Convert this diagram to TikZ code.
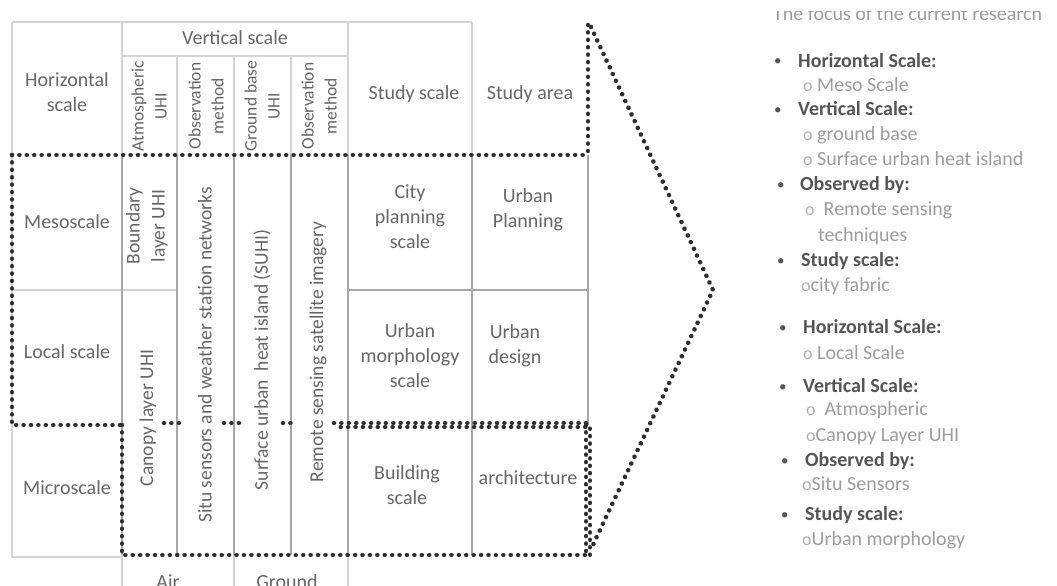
\documentclass[tikz,border=0pt]{standalone}
\usepackage{fontspec}
\setmainfont{Carlito}
\usetikzlibrary{positioning}
\definecolor{txtgray}{HTML}{666666}
\definecolor{headgray}{HTML}{555555}
\definecolor{subgray}{HTML}{9C9C9C}
\definecolor{linegray}{HTML}{A6A6A6}
\definecolor{palegray}{HTML}{D4D4D4}
\definecolor{dotgray}{HTML}{2E2E2E}
\tikzset{
  cell/.style={text=txtgray,font=\fontsize{20}{25}\selectfont,align=center,inner sep=0pt},
  headcell/.style={cell,rotate=90,font=\fontsize{17.5}{23}\selectfont},
  vcell/.style={cell,rotate=90,font=\fontsize{19.5}{25}\selectfont},
  gridline/.style={draw=linegray,line width=1.2pt},
  paleline/.style={draw=palegray,line width=1.2pt},
  dotline/.style={draw=dotgray,line width=4.6pt,line cap=round,dash pattern=on 0.01pt off 7.4pt},
  bulhead/.style={anchor=base west,text=headgray,font=\fontsize{20}{24}\selectfont\bfseries,inner sep=0pt},
  bulitem/.style={anchor=base west,text=subgray,font=\fontsize{20}{24}\selectfont,inner sep=0pt},
  bulmark/.style={anchor=base west,text=headgray,font=\fontsize{15}{15}\selectfont,inner sep=0pt}
}
\newcommand{\subo}{{\fontsize{18}{18}\selectfont\color{subgray!80}o}}
\begin{document}
\begin{tikzpicture}[x=1pt,y=-1pt]
\useasboundingbox (0,0) rectangle (1057,586);
%
% grid of the table
\draw[paleline] (12,22) -- (472,22);
\draw[paleline] (12,22) -- (12,557) -- (122,557);
\draw[paleline] (12,290) -- (177,290);
\draw[paleline] (122,56) -- (348,56);
\draw[paleline] (122,22) -- (122,155);
\draw[paleline] (177,56) -- (177,155);
\draw[paleline] (234,56) -- (234,155);
\draw[paleline] (291,56) -- (291,155);
\draw[paleline] (348,22) -- (348,155);
\draw[paleline] (472,22) -- (472,155);
\draw[paleline] (122,555) -- (122,586);
\draw[paleline] (234,555) -- (234,586);
\draw[paleline] (348,555) -- (348,586);
\draw[gridline] (122,155) -- (122,555);
\draw[gridline] (177,155) -- (177,555);
\draw[gridline] (234,155) -- (234,555);
\draw[gridline] (291,155) -- (291,555);
\draw[gridline] (348,155) -- (348,555);
\draw[gridline] (472,155) -- (472,555);
\draw[gridline] (588,155) -- (588,425);
\draw[gridline] (348,290) -- (588,290);
%
% header
\node[cell] (hscale) at (67,92) {Horizontal\\scale};
\node[cell] (vscale) at (235,38) {Vertical scale};
\node[headcell] (atmuhi) at (149,106) {Atmospheric\\UHI};
\node[headcell] (obsair) at (206,106) {Observation\\method};
\node[headcell] (gruhi) at (262,106) {Ground base\\UHI};
\node[headcell] (obsgr) at (319,106) {Observation\\method};
\node[cell] (studysc) at (414,94) {Study scale};
\node[cell] (studyar) at (530,94) {Study area};
%
% body
\node[cell] (meso) at (67,222) {Mesoscale};
\node[cell] (local) at (67,352) {Local scale};
\node[cell] (micro) at (67,488) {Microscale};
\node[vcell] (blayer) at (147,226) {Boundary\\layer UHI};
\node[vcell] (clayer) at (148,418) {Canopy layer UHI};
\node[vcell] (situ) at (205,355) {Situ sensors and weather station networks};
\node[vcell] (suhi) at (262,360) {Surface urban\ \ heat island (SUHI)};
\node[vcell] (remote) at (318,352) {Remote sensing satellite imagery};
\node[cell] (cityps) at (410,217) {City\\planning\\scale};
\node[cell] (urbpl) at (528,210) {Urban\\Planning};
\node[cell] (urbmorph) at (410,356) {Urban\\morphology\\scale};
\node[cell] (urbdes) at (515,346) {Urban\\design};
\node[cell] (bldsc) at (407,485) {Building\\scale};
\node[cell] (arch) at (528,478) {architecture};
\node[cell,anchor=base] (air) at (168,588) {Air};
\node[cell,anchor=base] (ground) at (287,588) {Ground};
%
% dotted frames
\draw[dotline] (12,155) -- (588,155);
\draw[dotline] (12,155) -- (12,425) -- (122,425);
\draw[dotline] (122,425) -- (122,555) -- (588,555);
\draw[dotline] (164,423) -- (186,423);
\draw[dotline] (224,423) -- (244,423);
\draw[dotline] (283,423) -- (293,423);
\draw[dotline] (334,423) -- (588,423);
\draw[dotline,dash phase=3.7pt] (337,427) -- (588,427);
\draw[dotline] (586,425) -- (586,555);
\draw[dotline,dash phase=3.7pt] (590,425) -- (590,555);
%
% chevron
\coordinate (ctop) at (591,27);
\coordinate (ctip) at (713,290);
\coordinate (cbot) at (591,549);
\draw[dotline] (588,25) -- (588,155);
\draw[dotline] (ctop) -- (ctip) -- (cbot);
%
% focus list
\begin{scope}
\clip (760,12) rectangle (1057,40);
\node[bulitem] (focus) at (773,21) {The focus of the current research};
\end{scope}
\node[bulmark] (b1) at (774,66) {•};
\node[bulhead] (h1) at (798,67) {Horizontal Scale:};
\node[bulitem] (h1a) at (803,91) {\subo\ Meso Scale};
\node[bulmark] (b2) at (774,114) {•};
\node[bulhead] (v1) at (798,115) {Vertical Scale:};
\node[bulitem] (v1a) at (803,140) {\subo\ ground base};
\node[bulitem] (v1b) at (803,165) {\subo\ Surface urban heat island};
\node[bulmark] (b3) at (777,189) {•};
\node[bulhead] (o1) at (800,190) {Observed by:};
\node[bulitem] (o1a) at (805,215) {\subo\ \ Remote sensing};
\node[bulitem] (o1b) at (818,241) {techniques};
\node[bulmark] (b4) at (777,265) {•};
\node[bulhead] (s1) at (801,266) {Study scale:};
\node[bulitem] (s1a) at (801,291) {\subo city fabric};
%
\node[bulmark] (b5) at (779,332) {•};
\node[bulhead] (h2) at (803,333) {Horizontal Scale:};
\node[bulitem] (h2a) at (803,359) {\subo\ Local Scale};
\node[bulmark] (b6) at (779,391) {•};
\node[bulhead] (v2) at (803,392) {Vertical Scale:};
\node[bulitem] (v2a) at (806,415) {\subo\ \ Atmospheric};
\node[bulitem] (v2b) at (806,441) {\subo Canopy Layer UHI};
\node[bulmark] (b7) at (781,465) {•};
\node[bulhead] (o2) at (805,466) {Observed by:};
\node[bulitem] (o2a) at (802,490) {\subo Situ Sensors};
\node[bulmark] (b8) at (781,519) {•};
\node[bulhead] (s2) at (805,520) {Study scale:};
\node[bulitem] (s2a) at (802,545) {\subo Urban morphology};
\end{tikzpicture}
\end{document}
